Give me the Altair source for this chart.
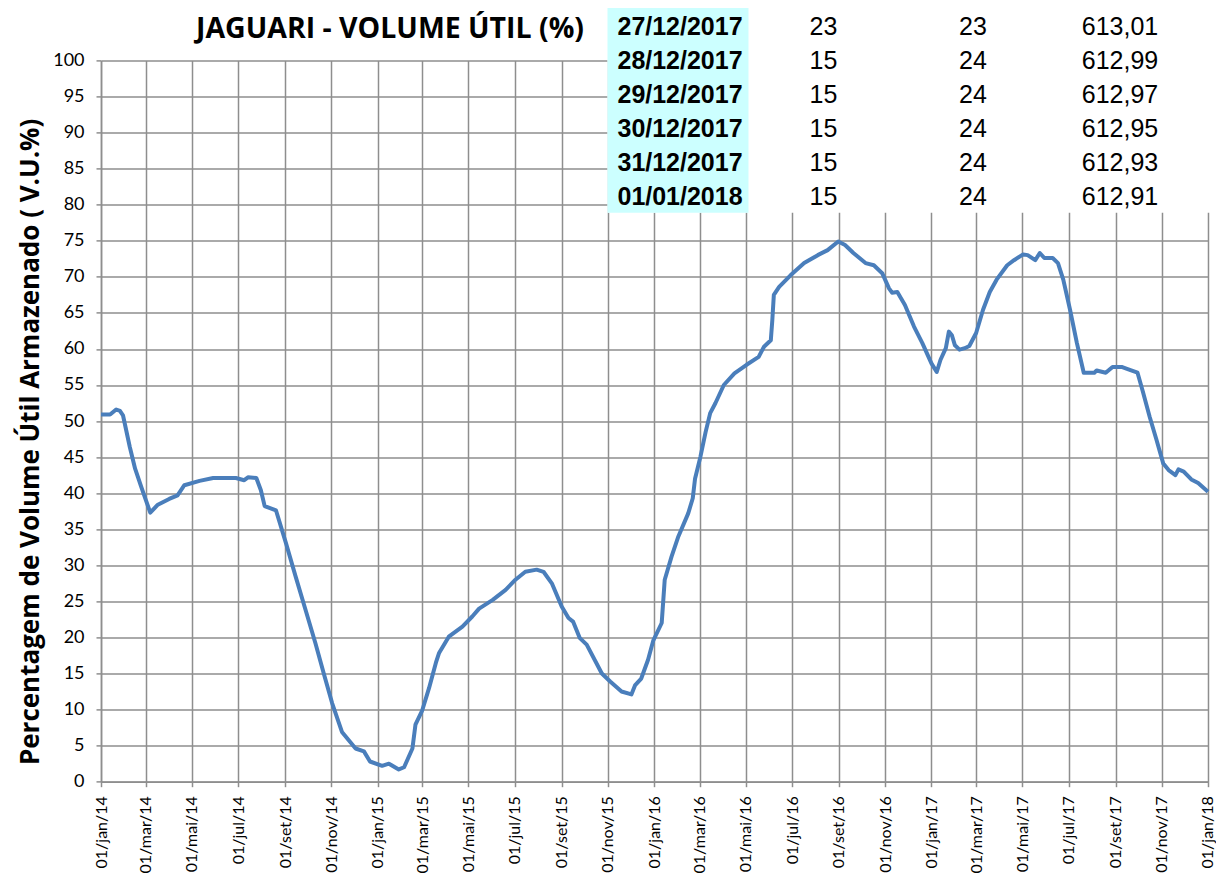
import json
import altair as alt
import pandas as pd

# ---------------- data ----------------
datas = [
    "2014-01-01", "2014-01-13", "2014-01-21", "2014-01-26", "2014-01-30", "2014-02-08",
    "2014-02-15", "2014-02-23", "2014-03-07", "2014-03-17", "2014-04-01", "2014-04-12",
    "2014-04-21", "2014-05-11", "2014-05-29", "2014-06-28", "2014-07-09", "2014-07-14",
    "2014-07-25", "2014-07-31", "2014-08-05", "2014-08-20", "2014-09-02", "2014-09-15",
    "2014-09-28", "2014-10-11", "2014-10-22", "2014-11-02", "2014-11-15", "2014-12-03",
    "2014-12-14", "2014-12-22", "2015-01-07", "2015-01-16", "2015-01-29", "2015-02-05",
    "2015-02-16", "2015-02-20", "2015-03-01", "2015-03-10", "2015-03-19", "2015-03-23",
    "2015-04-05", "2015-04-23", "2015-05-06", "2015-05-15", "2015-06-02", "2015-06-19",
    "2015-07-02", "2015-07-15", "2015-07-30", "2015-08-08", "2015-08-19", "2015-09-01",
    "2015-09-10", "2015-09-16", "2015-09-25", "2015-10-04", "2015-10-24", "2015-11-04",
    "2015-11-19", "2015-12-02", "2015-12-07", "2015-12-15", "2015-12-24", "2015-12-31",
    "2016-01-11", "2016-01-15", "2016-01-24", "2016-02-02", "2016-02-15", "2016-02-21",
    "2016-02-24", "2016-03-02", "2016-03-09", "2016-03-15", "2016-03-22", "2016-04-02",
    "2016-04-16", "2016-05-02", "2016-05-18", "2016-05-25", "2016-06-03", "2016-06-05",
    "2016-06-07", "2016-06-14", "2016-06-29", "2016-07-17", "2016-08-04", "2016-08-17",
    "2016-08-31", "2016-09-09", "2016-09-20", "2016-10-06", "2016-10-17", "2016-10-28",
    "2016-11-06", "2016-11-10", "2016-11-17", "2016-11-27", "2016-12-09", "2016-12-20",
    "2017-01-01", "2017-01-08", "2017-01-13", "2017-01-20", "2017-01-24", "2017-01-28",
    "2017-02-01", "2017-02-07", "2017-02-14", "2017-02-20", "2017-03-01", "2017-03-10",
    "2017-03-19", "2017-03-28", "2017-04-11", "2017-04-20", "2017-05-02", "2017-05-08",
    "2017-05-18", "2017-05-24", "2017-05-30", "2017-06-10", "2017-06-17", "2017-06-24",
    "2017-07-03", "2017-07-12", "2017-07-21", "2017-08-04", "2017-08-07", "2017-08-19",
    "2017-08-28", "2017-09-09", "2017-09-17", "2017-09-30", "2017-10-07", "2017-10-16",
    "2017-10-25", "2017-11-03", "2017-11-10", "2017-11-19", "2017-11-23", "2017-11-30",
    "2017-12-10", "2017-12-19", "2018-01-01",
]
volume = [
    50.9, 50.9, 51.6, 51.4, 50.8, 46.4,
    43.4, 40.9, 37.3, 38.4, 39.2, 39.7,
    41.1, 41.7, 42.1, 42.1, 41.8, 42.2,
    42.1, 40.4, 38.2, 37.6, 33.1, 28.4,
    23.8, 19.2, 15.0, 10.9, 6.9, 4.6,
    4.2, 2.8, 2.2, 2.5, 1.7, 2.0,
    4.6, 7.9, 9.9, 13.0, 16.5, 17.8,
    20.1, 21.5, 22.9, 24.0, 25.2, 26.6,
    28.0, 29.1, 29.4, 29.1, 27.5, 24.3,
    22.7, 22.2, 19.9, 19.0, 15.0, 13.9,
    12.5, 12.1, 13.4, 14.3, 16.9, 19.6,
    22.0, 28.0, 31.2, 34.0, 37.2, 39.3,
    42.0, 45.0, 48.5, 51.1, 52.5, 55.0,
    56.6, 57.8, 58.9, 60.3, 61.2, 64.0,
    67.5, 68.6, 70.2, 71.9, 73.0, 73.7,
    74.9, 74.4, 73.3, 71.9, 71.6, 70.5,
    68.4, 67.8, 67.9, 66.1, 63.1, 60.8,
    58.0, 56.8, 58.5, 60.1, 62.4, 61.9,
    60.5, 59.9, 60.1, 60.4, 62.2, 65.4,
    67.9, 69.6, 71.6, 72.3, 73.1, 73.0,
    72.3, 73.3, 72.6, 72.6, 71.9, 69.6,
    65.4, 60.8, 56.7, 56.7, 57.0, 56.7,
    57.5, 57.5, 57.2, 56.7, 54.1, 50.6,
    47.4, 44.1, 43.2, 42.5, 43.3, 43.0,
    41.9, 41.4, 40.2,
]

tick_datas = [
    "2014-01-01", "2014-03-01", "2014-05-01", "2014-07-01", "2014-09-01", "2014-11-01",
    "2015-01-01", "2015-03-01", "2015-05-01", "2015-07-01", "2015-09-01", "2015-11-01",
    "2016-01-01", "2016-03-01", "2016-05-01", "2016-07-01", "2016-09-01", "2016-11-01",
    "2017-01-01", "2017-03-01", "2017-05-01", "2017-07-01", "2017-09-01", "2017-11-01",
    "2018-01-01",
]
meses = ["jan", "fev", "mar", "abr", "mai", "jun", "jul", "ago", "set", "out", "nov", "dez"]
y_ticks = list(range(0, 101, 5))

tab_dias = ["27/12/2017", "28/12/2017", "29/12/2017", "30/12/2017", "31/12/2017", "01/01/2018"]
tab_c2 = ["23", "15", "15", "15", "15", "15"]
tab_c3 = ["23", "24", "24", "24", "24", "24"]
tab_c4 = ["613,01", "612,99", "612,97", "612,95", "612,93", "612,91"]

titulo = "JAGUARI - VOLUME ÚTIL (%)"
titulo_y = "Percentagem de Volume Útil Armazenado  ( V.U.%)"

# ---------------- chart ----------------
df = pd.DataFrame({"data": datas, "volume": volume})
tab = pd.DataFrame({"dia": tab_dias, "c2": tab_c2, "c3": tab_c3, "c4": tab_c4})
one = pd.DataFrame({"k": [0]})

tick_ms = [int(pd.Timestamp(d).value // 10**6) for d in tick_datas]
GRID = "#8e8e8e"
W, H = 1107, 721.3

label_expr = ("'01/' + " + json.dumps(meses).replace('"', "'") +
              "[utcmonth(datum.value)] + '/' + utcFormat(datum.value, '%y')")

line = alt.Chart(df).mark_line(color="#4a7ebb", strokeWidth=4, strokeJoin="round").encode(
    x=alt.X("data:T",
            scale=alt.Scale(type="utc", domain=[tick_ms[0], tick_ms[-1]], nice=False),
            axis=alt.Axis(values=tick_ms, labelExpr=label_expr, labelAngle=270,
                          labelFont="Lato", labelFontSize=16, labelColor="black",
                          labelPadding=9, labelFlush=False, labelOverlap=False,
                          tickSize=5, tickColor=GRID, tickWidth=1.5,
                          domainColor=GRID, domainWidth=1.5,
                          grid=True, gridColor=GRID, gridWidth=1.5, title=None)),
    y=alt.Y("volume:Q",
            scale=alt.Scale(domain=[0, 100], nice=False, zero=False),
            axis=alt.Axis(values=y_ticks, labelFont="Lato", labelFontSize=18,
                          labelColor="black", labelPadding=12,
                          tickSize=5, tickColor=GRID, tickWidth=1.5,
                          domainColor=GRID, domainWidth=1.5,
                          grid=True, gridColor=GRID, gridWidth=1.5,
                          title=titulo_y, titleFont="Open Sans", titleFontSize=26,
                          titleFontWeight="bold", titleColor="black",
                          titleAngle=270, titleX=-71, titleY=381,
                          titleAlign="center", titleBaseline="middle")),
)

white = alt.Chart(one).mark_rect(color="white").encode(
    x=alt.value(506.5), x2=alt.value(1125), y=alt.value(-53), y2=alt.value(152.3))
cyan = alt.Chart(one).mark_rect(color="#ccffff").encode(
    x=alt.value(506.5), x2=alt.value(647.5), y=alt.value(-53), y2=alt.value(152.3))

ty = alt.Y("dia:N", sort=None, axis=None,
           scale=alt.Scale(type="point", range=[-33.4, 137.1], padding=0))

t_dia = alt.Chart(tab).mark_text(font="Liberation Sans", fontSize=25, fontWeight="bold",
                                 color="black", align="center", baseline="middle").encode(
    y=ty, x=alt.value(579), text="dia:N")
t_c2 = alt.Chart(tab).mark_text(font="Liberation Sans", fontSize=25, color="black",
                                align="center", baseline="middle").encode(
    y=ty, x=alt.value(722.5), text="c2:N")
t_c3 = alt.Chart(tab).mark_text(font="Liberation Sans", fontSize=25, color="black",
                                align="center", baseline="middle").encode(
    y=ty, x=alt.value(872), text="c3:N")
t_c4 = alt.Chart(tab).mark_text(font="Liberation Sans", fontSize=25, color="black",
                                align="center", baseline="middle").encode(
    y=ty, x=alt.value(1019), text="c4:N")

title = alt.Chart(one).mark_text(font="Open Sans", fontSize=28.5, fontWeight="bold", color="black",
                                 align="center", baseline="middle").encode(
    x=alt.value(289), y=alt.value(-31), text=alt.value(titulo))

chart = alt.layer(line, white, cyan, t_dia, t_c2, t_c3, t_c4, title).resolve_scale(
    y="independent"
).properties(
    width=W, height=H,
    autosize=alt.AutoSizeParams(type="none"),
    padding={"left": 93, "top": 52.4, "right": 8, "bottom": 95},
    background="white",
).configure_view(stroke=None)

chart.save("out.html", embed_options={"renderer": "svg", "actions": False})
